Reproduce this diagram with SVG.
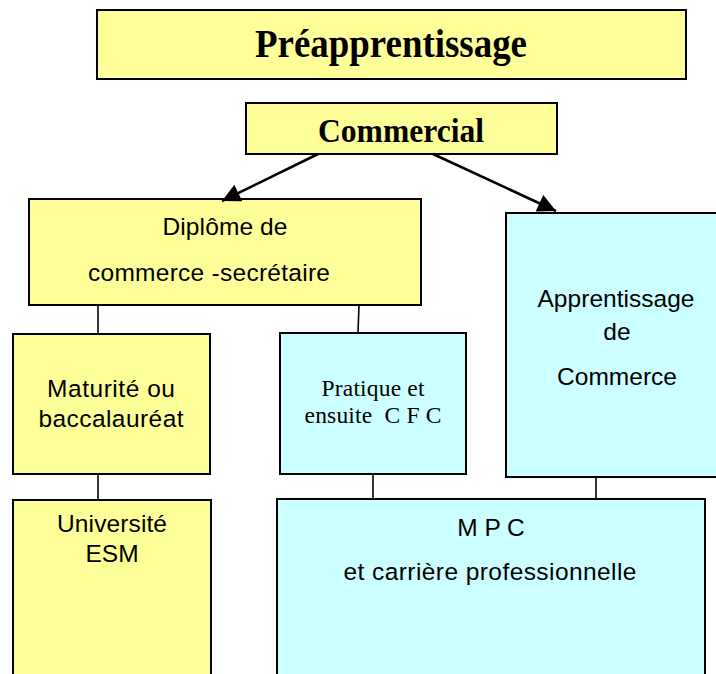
<svg xmlns="http://www.w3.org/2000/svg" width="716" height="674" viewBox="0 0 716 674">
<style>
.y{fill:#FFFF99;stroke:#000;stroke-width:2}
.c{fill:#CCFFFF;stroke:#000;stroke-width:2}
.s{font-family:"Liberation Sans",Arial,sans-serif;font-size:24.5px;fill:#000;text-anchor:middle}
.t{font-family:"Liberation Serif","Times New Roman",serif;font-size:23.5px;fill:#000;text-anchor:middle}
.b{font-family:"Liberation Serif","Times New Roman",serif;font-weight:bold;fill:#000;text-anchor:middle}
.ln{stroke:#000;stroke-width:1.6;fill:none}
.ar{stroke:#000;stroke-width:2.6;fill:none}
</style>
<defs>
<marker id="ah" viewBox="0 0 10 10" refX="10" refY="5" markerWidth="8" markerHeight="7" markerUnits="strokeWidth" orient="auto">
<path d="M0,0 L10,5 L0,10 z" fill="#000"/>
</marker>
</defs>
<g id="preapprentissage">
<rect class="y" x="97" y="10" width="589" height="69"/>
<text class="b" x="391" y="57" font-size="39" textLength="272" lengthAdjust="spacingAndGlyphs">Préapprentissage</text>
</g>
<g id="commercial">
<rect class="y" x="246" y="103" width="311" height="51"/>
<text class="b" x="401" y="142" font-size="33" textLength="166" lengthAdjust="spacingAndGlyphs">Commercial</text>
</g>
<g id="diplome">
<rect class="y" x="29" y="199" width="392" height="106"/>
<text class="s" x="225" y="235" textLength="125">Diplôme de</text>
<text class="s" x="209" y="281" textLength="242">commerce -secrétaire</text>
</g>
<g id="maturite">
<rect class="y" x="13" y="334" width="197" height="140"/>
<text class="s" x="111" y="397" textLength="128">Maturité ou</text>
<text class="s" x="111" y="427" textLength="145">baccalauréat</text>
</g>
<g id="pratique">
<rect class="c" x="280" y="333" width="186" height="141"/>
<text class="t" x="373" y="396" textLength="103">Pratique et</text>
<text class="t" x="373" y="423" textLength="137" xml:space="preserve">ensuite  C F C</text>
</g>
<g id="apprentissage">
<rect class="c" x="506" y="213" width="220" height="264"/>
<text class="s" x="616" y="307" textLength="157">Apprentissage</text>
<text class="s" x="617" y="340">de</text>
<text class="s" x="617" y="385" textLength="120">Commerce</text>
</g>
<g id="universite">
<rect class="y" x="13" y="500" width="198" height="190"/>
<text class="s" x="112" y="532" textLength="110">Université</text>
<text class="s" x="112" y="562">ESM</text>
</g>
<g id="mpc">
<rect class="c" x="277" y="499" width="428" height="190"/>
<text class="s" x="491" y="536" xml:space="preserve">M P C</text>
<text class="s" x="490" y="580" textLength="293">et carrière professionnelle</text>
</g>
<g id="connectors">
<line class="ar" x1="318" y1="154" x2="222" y2="201" marker-end="url(#ah)"/>
<line class="ar" x1="433" y1="154" x2="556" y2="211" marker-end="url(#ah)"/>
<line class="ln" x1="98" y1="305" x2="98" y2="334"/>
<line class="ln" x1="359" y1="305" x2="358" y2="333"/>
<line class="ln" x1="98" y1="474" x2="98" y2="500"/>
<line class="ln" x1="373" y1="474" x2="373" y2="499"/>
<line class="ln" x1="596" y1="477" x2="596" y2="499"/>
</g>
</svg>
